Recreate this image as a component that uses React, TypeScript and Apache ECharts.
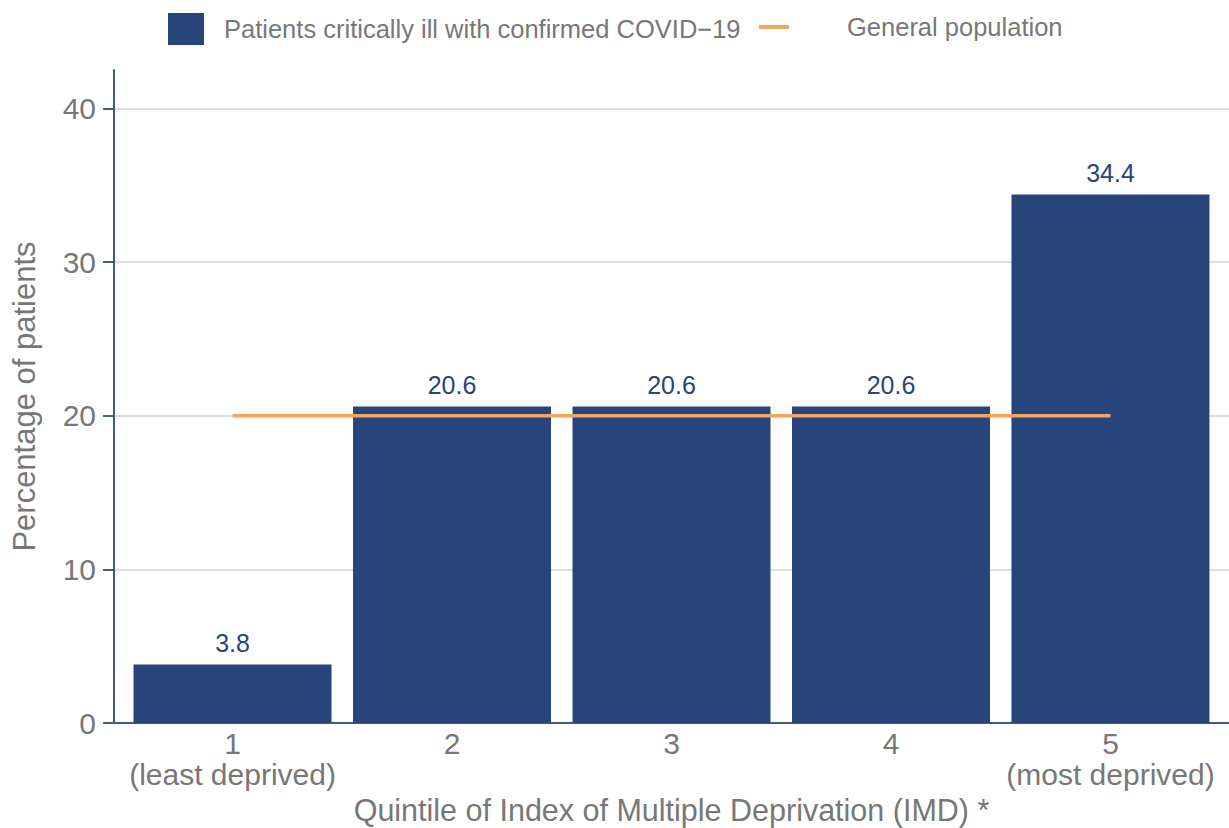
import React, { useEffect, useRef } from "react";
import * as echarts from "echarts";

const quintiles = [1, 2, 3, 4, 5];
const quintileLabels = ["1\n(least deprived)", "2", "3", "4", "5\n(most deprived)"];
const covidPct = [3.8, 20.6, 20.6, 20.6, 34.4];
const generalPct = [20, 20, 20, 20, 20];
const yTicks = [0, 10, 20, 30, 40];

const BLUE = "#27457a";
const ORANGE = "#f4a45c";
const GREY = "#777777";
const AXIS = "#3e5a8c";
const FONT = "'Liberation Sans', Arial, sans-serif";

export default function App() {
  const ref = useRef<HTMLDivElement>(null);
  useEffect(() => {
    const chart = echarts.init(ref.current!, null, { renderer: "svg" });
    chart.setOption({
      animation: false,
      textStyle: { fontFamily: FONT },
      legend: [
        {
          data: [{ name: "Patients critically ill with confirmed COVID−19", icon: "rect" }],
          left: 168,
          top: 13,
          padding: 0,
          itemWidth: 36,
          itemHeight: 32,
          textStyle: { color: GREY, fontSize: 25.5, fontFamily: FONT, padding: [0, 0, 0, 15] },
        },
        {
          data: [{ name: "General population", icon: "rect" }],
          left: 759,
          top: 14,
          padding: 0,
          itemWidth: 30,
          itemHeight: 4,
          textStyle: { color: GREY, fontSize: 25.5, fontFamily: FONT, padding: [0, 0, 0, 53] },
        },
      ],
      grid: { left: 114, right: 0, top: 70, bottom: 105, containLabel: false, outerBoundsMode: "none" },
      xAxis: {
        type: "value",
        min: 0.46,
        max: 5.54,
        name: "Quintile of Index of Multiple Deprivation (IMD) *",
        nameLocation: "middle",
        nameGap: 62,
        nameTextStyle: { color: GREY, fontSize: 30.5, lineHeight: 31, fontFamily: FONT },
        axisLine: { show: true, lineStyle: { color: AXIS, width: 2 } },
        axisTick: { show: false },
        splitLine: { show: false },
        axisLabel: {
          customValues: quintiles,
          color: GREY,
          fontSize: 30,
          fontFamily: FONT,
          lineHeight: 31,
          margin: 5,
          formatter: (v: number) => {
            const i = quintiles.indexOf(Math.round(v));
            return i >= 0 ? quintileLabels[i] : "";
          },
        },
      },
      yAxis: {
        type: "value",
        min: 0,
        max: 42.5,
        interval: 10,
        name: "Percentage of patients",
        nameLocation: "middle",
        nameGap: 74,
        nameTextStyle: { color: GREY, fontSize: 31, fontFamily: FONT },
        axisLine: { show: true, lineStyle: { color: AXIS, width: 2 } },
        axisTick: { show: true, length: 11, lineStyle: { color: AXIS, width: 2 }, customValues: yTicks },
        axisLabel: { color: GREY, fontSize: 30, fontFamily: FONT, margin: 18, customValues: yTicks },
        splitLine: { show: true, lineStyle: { color: "#dedede", width: 2 } },
      },
      series: [
        {
          name: "Patients critically ill with confirmed COVID−19",
          type: "bar",
          data: quintiles.map((q, i) => [q, covidPct[i]]),
          barWidth: 198,
          itemStyle: { color: BLUE },
          label: {
            show: true,
            position: "top",
            distance: 9,
            color: BLUE,
            fontSize: 25,
            fontFamily: FONT,
            formatter: (p: any) => p.value[1].toFixed(1),
          },
          z: 2,
        },
        {
          name: "General population",
          type: "line",
          data: quintiles.map((q, i) => [q, generalPct[i]]),
          symbol: "none",
          lineStyle: { color: ORANGE, width: 3.5 },
          itemStyle: { color: ORANGE },
          z: 3,
        },
      ],
    });
    return () => chart.dispose();
  }, []);
  return (
    <div
      ref={ref}
      style={{ position: "fixed", left: 0, top: 0, width: 1229, height: 828, background: "#fff" }}
    />
  );
}
